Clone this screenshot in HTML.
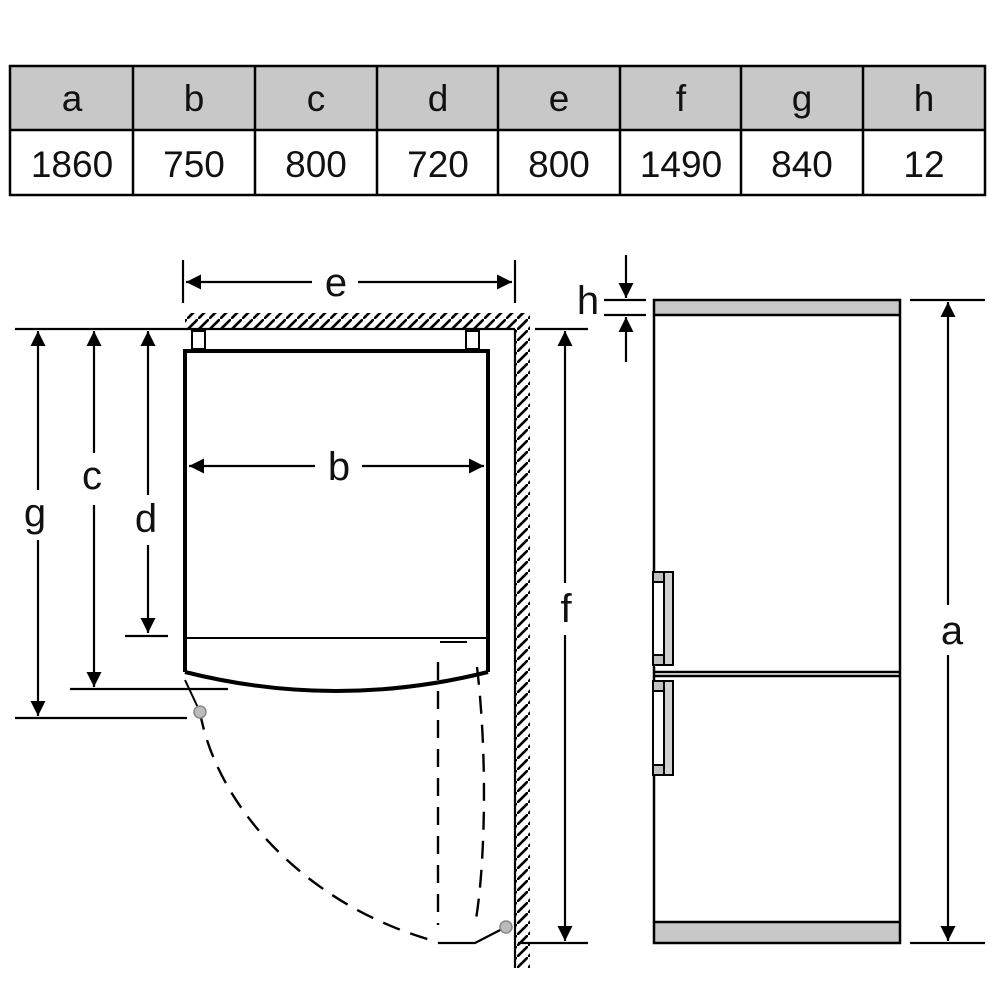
<!DOCTYPE html>
<html><head><meta charset="utf-8"><style>
body{margin:0;background:#fff}
svg{display:block}
text{font-family:"Liberation Sans",sans-serif;fill:#111}
</style></head><body>
<svg width="1000" height="1000" viewBox="0 0 1000 1000" xmlns="http://www.w3.org/2000/svg">
<defs>
<marker id="ar" viewBox="0 0 10 10" refX="10" refY="5" markerWidth="24" markerHeight="15" markerUnits="userSpaceOnUse" orient="auto"><path d="M0,0L10,5L0,10z" fill="#000"/></marker>
<pattern id="hat" width="11" height="11" patternUnits="userSpaceOnUse"><path d="M-2,13L13,-2" stroke="#000" stroke-width="2.6"/></pattern>
</defs>
<!-- table -->
<rect x="10" y="66" width="975" height="64" fill="#c8c8c8"/>
<rect x="10" y="66" width="975" height="129" fill="none" stroke="#000" stroke-width="2.5"/>
<line x1="10" y1="130" x2="985" y2="130" stroke="#000" stroke-width="2.5"/>
<g stroke="#000" stroke-width="2.5">
<line x1="133" y1="66" x2="133" y2="195"/><line x1="255" y1="66" x2="255" y2="195"/><line x1="377" y1="66" x2="377" y2="195"/><line x1="498" y1="66" x2="498" y2="195"/><line x1="620" y1="66" x2="620" y2="195"/><line x1="741" y1="66" x2="741" y2="195"/><line x1="863" y1="66" x2="863" y2="195"/>
</g>
<g font-size="37" text-anchor="middle">
<text x="72" y="111">a</text><text x="194" y="111">b</text><text x="316" y="111">c</text><text x="438" y="111">d</text><text x="559" y="111">e</text><text x="681" y="111">f</text><text x="802" y="111">g</text><text x="924" y="111">h</text>
<text x="72" y="177">1860</text><text x="194" y="177">750</text><text x="316" y="177">800</text><text x="438" y="177">720</text><text x="559" y="177">800</text><text x="681" y="177">1490</text><text x="802" y="177">840</text><text x="924" y="177">12</text>
</g>
<!-- wall -->
<rect x="185" y="313" width="345" height="16" fill="url(#hat)"/>
<rect x="515" y="313" width="15" height="655" fill="url(#hat)"/>
<g stroke="#000" stroke-width="2.2" fill="none">
<line x1="15" y1="329" x2="515" y2="329"/>
<line x1="535" y1="329" x2="588" y2="329"/>
<line x1="515" y1="329" x2="515" y2="968"/>
<line x1="518" y1="943" x2="588" y2="943"/>
<!-- e -->
<line x1="183" y1="260" x2="183" y2="303"/><line x1="515" y1="260" x2="515" y2="303"/>
<line x1="312" y1="282" x2="186" y2="282" marker-end="url(#ar)"/>
<line x1="358" y1="282" x2="512" y2="282" marker-end="url(#ar)"/>
<!-- spacers -->
<rect x="192" y="331" width="13" height="18" stroke-width="2"/>
<rect x="466" y="331" width="13" height="18" stroke-width="2"/>
<!-- fridge top view -->
<path d="M185,672 L185,351 L488,351 L488,672" stroke-width="4"/>
<path d="M185,672 Q336,710 488,672" stroke-width="4"/>
<line x1="185" y1="638" x2="488" y2="638" stroke-width="2"/>
<line x1="440" y1="642" x2="467" y2="642" stroke-width="2"/>
<!-- b -->
<line x1="315" y1="466" x2="189" y2="466" marker-end="url(#ar)"/>
<line x1="362" y1="466" x2="484" y2="466" marker-end="url(#ar)"/>
<!-- g c d -->
<line x1="15" y1="718" x2="187" y2="718"/>
<line x1="38" y1="490" x2="38" y2="331" marker-end="url(#ar)"/>
<line x1="38" y1="540" x2="38" y2="716" marker-end="url(#ar)"/>
<line x1="70" y1="689" x2="228" y2="689"/>
<line x1="94" y1="453" x2="94" y2="331" marker-end="url(#ar)"/>
<line x1="94" y1="505" x2="94" y2="687" marker-end="url(#ar)"/>
<line x1="125" y1="636" x2="168" y2="636"/>
<line x1="148" y1="495" x2="148" y2="331" marker-end="url(#ar)"/>
<line x1="148" y1="545" x2="148" y2="633" marker-end="url(#ar)"/>
<!-- f -->
<line x1="565" y1="583" x2="565" y2="331" marker-end="url(#ar)"/>
<line x1="565" y1="635" x2="565" y2="941" marker-end="url(#ar)"/>
<!-- door swing -->
<line x1="185" y1="680" x2="200" y2="712" stroke-width="2"/>
<path d="M200,712 C215,800 300,905 438,942" stroke-dasharray="18,11" stroke-width="2.4"/>
<line x1="438" y1="662" x2="438" y2="925" stroke-dasharray="18,11" stroke-width="2.4"/>
<path d="M477,667 C488,760 485,870 475,925" stroke-dasharray="18,11" stroke-width="2.4"/>
<polyline points="438,943 475,943 506,927" stroke-width="2.2"/>
</g>
<circle cx="200" cy="712" r="6" fill="#bbb" stroke="#888" stroke-width="1.5"/>
<circle cx="506" cy="927" r="6" fill="#bbb" stroke="#888" stroke-width="1.5"/>
<!-- right fridge -->
<rect x="654" y="300" width="246" height="15" fill="#c8c8c8"/>
<rect x="654" y="922" width="246" height="21" fill="#c8c8c8"/>
<g stroke="#000" stroke-width="2.5" fill="none">
<rect x="654" y="300" width="246" height="643"/>
<line x1="654" y1="315" x2="900" y2="315"/>
<line x1="654" y1="922" x2="900" y2="922"/>
<line x1="654" y1="672" x2="900" y2="672"/>
<line x1="654" y1="676" x2="900" y2="676"/>
</g>
<g stroke="#000" stroke-width="2">
<rect x="653" y="572" width="11" height="93" fill="#fff"/>
<rect x="664" y="572" width="9" height="93" fill="#d0d0d0"/>
<rect x="653" y="572" width="11" height="10" fill="#c0c0c0"/>
<rect x="653" y="655" width="11" height="10" fill="#c0c0c0"/>
<rect x="653" y="681" width="11" height="94" fill="#fff"/>
<rect x="664" y="681" width="9" height="94" fill="#d0d0d0"/>
<rect x="653" y="681" width="11" height="10" fill="#c0c0c0"/>
<rect x="653" y="765" width="11" height="10" fill="#c0c0c0"/>
</g>
<g stroke="#000" stroke-width="2.2">
<line x1="604" y1="300" x2="646" y2="300"/><line x1="604" y1="315" x2="646" y2="315"/>
<line x1="626" y1="255" x2="626" y2="298" marker-end="url(#ar)"/>
<line x1="626" y1="362" x2="626" y2="317" marker-end="url(#ar)"/>
<line x1="910" y1="300" x2="985" y2="300"/><line x1="910" y1="943" x2="985" y2="943"/>
<line x1="948" y1="605" x2="948" y2="302" marker-end="url(#ar)"/>
<line x1="948" y1="655" x2="948" y2="941" marker-end="url(#ar)"/>
</g>
<g font-size="40" text-anchor="middle">
<text x="336" y="296">e</text>
<text x="339" y="480">b</text>
<text x="35" y="526">g</text>
<text x="92" y="489">c</text>
<text x="146" y="532">d</text>
<text x="566" y="622">f</text>
<text x="588" y="314">h</text>
<text x="952" y="644">a</text>
</g>
</svg>
</body></html>
